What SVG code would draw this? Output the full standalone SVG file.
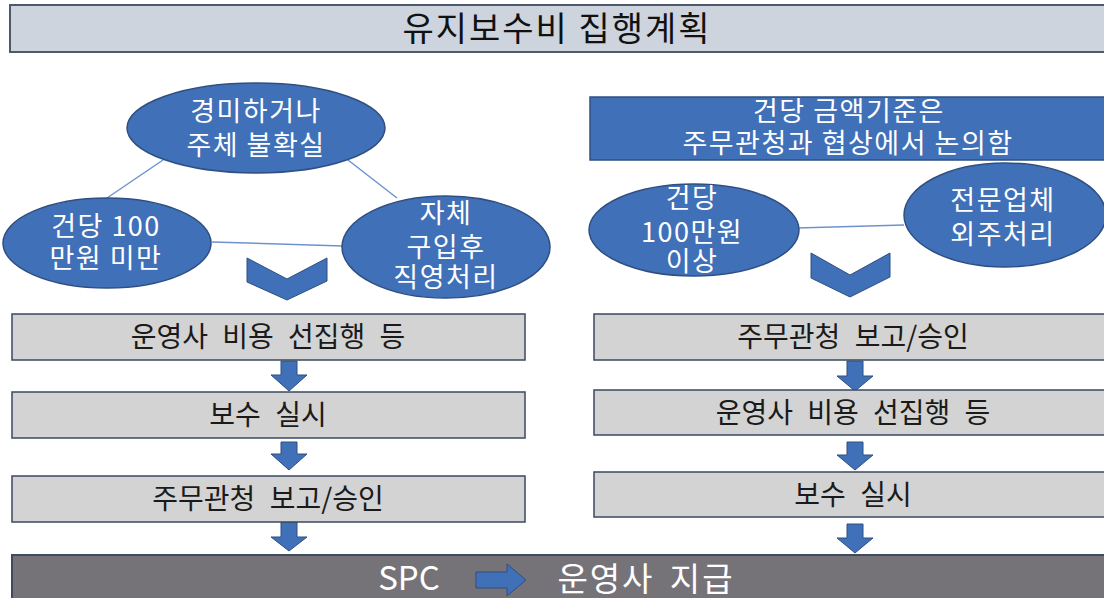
<svg xmlns="http://www.w3.org/2000/svg" width="1104" height="598" viewBox="0 0 1104 598">
<style>
text{font-family:"Noto Sans CJK KR","Noto Sans",sans-serif;text-anchor:middle}
.blue{fill:#4070b8;stroke:#2f4f80;stroke-width:1.5}
.gray{fill:#d3d3d3;stroke:#3a4a60;stroke-width:1.5}
.wt{fill:#ffffff;font-size:27px;letter-spacing:1.5px}
.bt{fill:#1a1a1a;font-size:28px;word-spacing:8px}
.con{stroke:#6e93cc;stroke-width:1.5;fill:none}
.arr{fill:#4070b8;stroke:#2f4f80;stroke-width:1}
</style>
<g id="title">
<rect x="10" y="5" width="1100" height="47" fill="#cdd4dd" stroke="#4d5a6c" stroke-width="2"/>
<text x="557" y="41" font-size="34" fill="#111" letter-spacing="2">유지보수비 집행계획</text>
</g>
<g id="connectors">
<line class="con" x1="163" y1="160" x2="107" y2="198"/>
<line class="con" x1="348" y1="160" x2="397" y2="198"/>
<line class="con" x1="212" y1="242" x2="343" y2="246"/>
<line class="con" x1="797" y1="228" x2="904" y2="225"/>
<polygon class="arr" points="281,361 297,361 297,375 307,375 289,391 271,375 281,375"/>
<polygon class="arr" points="281,442 297,442 297,454 307,454 289,470 271,454 281,454"/>
<polygon class="arr" points="281,522 297,522 297,537 307,537 289,551 271,537 281,537"/>
<polygon class="arr" points="847,361 863,361 863,376 873,376 855,391 837,376 847,376"/>
<polygon class="arr" points="847,442 863,442 863,455 873,455 855,470 837,455 847,455"/>
<polygon class="arr" points="847,524 863,524 863,538 873,538 855,553 837,538 847,538"/>
</g>
<g id="node-top-ellipse">
<ellipse class="blue" cx="256" cy="128" rx="129" ry="45"/>
<text class="wt" x="256" y="121">경미하거나</text>
<text class="wt" x="256" y="155">주체 불확실</text>
</g>
<g id="node-under100">
<ellipse class="blue" cx="107" cy="243" rx="104" ry="45"/>
<text class="wt" x="106" y="236">건당 100</text>
<text class="wt" x="106" y="268">만원 미만</text>
</g>
<g id="node-self">
<ellipse class="blue" cx="446" cy="247" rx="104" ry="51"/>
<text class="wt" x="446" y="223">자체</text>
<text class="wt" x="446" y="257">구입후</text>
<text class="wt" x="446" y="287">직영처리</text>
</g>
<g id="chevron-left">
<polygon class="arr" points="247,258 287,279 327,258 327,281 287,300 247,282"/>
</g>
<g id="node-criteria">
<rect class="blue" x="590" y="97" width="520" height="63"/>
<text class="wt" x="849" y="121">건당 금액기준은</text>
<text class="wt" x="848" y="153">주무관청과 협상에서 논의함</text>
</g>
<g id="node-over100">
<ellipse class="blue" cx="694" cy="230" rx="105" ry="46"/>
<text class="wt" x="692" y="208">건당</text>
<text class="wt" x="692" y="242">100만원</text>
<text class="wt" x="692" y="271">이상</text>
</g>
<g id="node-outsource">
<ellipse class="blue" cx="1005" cy="215" rx="101" ry="52"/>
<text class="wt" x="1003" y="210">전문업체</text>
<text class="wt" x="1003" y="244">외주처리</text>
</g>
<g id="chevron-right">
<polygon class="arr" points="811,253 850,275 890,253 890,277 850,297 811,278"/>
</g>
<g id="left-step1">
<rect class="gray" x="12" y="314" width="513" height="46"/>
<text class="bt" x="268" y="347">운영사 비용 선집행 등</text>
</g>
<g id="left-step2">
<rect class="gray" x="12" y="392" width="513" height="46"/>
<text class="bt" x="268" y="425">보수 실시</text>
</g>
<g id="left-step3">
<rect class="gray" x="12" y="476" width="513" height="46"/>
<text class="bt" x="268" y="509">주무관청 보고/승인</text>
</g>
<g id="right-step1">
<rect class="gray" x="594" y="314" width="520" height="46"/>
<text class="bt" x="853" y="347">주무관청 보고/승인</text>
</g>
<g id="right-step2">
<rect class="gray" x="594" y="390" width="520" height="45"/>
<text class="bt" x="853" y="423">운영사 비용 선집행 등</text>
</g>
<g id="right-step3">
<rect class="gray" x="594" y="472" width="520" height="45"/>
<text class="bt" x="853" y="505">보수 실시</text>
</g>
<g id="node-payment">
<rect x="12" y="555" width="1100" height="50" fill="#757378" stroke="#3f4a5c" stroke-width="2"/>
<text x="409" y="590" font-size="33" fill="#ffffff">SPC</text>
<polygon class="arr" points="476,572 507,572 507,564 526,580 507,596 507,588 476,588"/>
<text x="646" y="591" font-size="33" fill="#ffffff" letter-spacing="2" style="word-spacing:6px">운영사 지급</text>
</g>
</svg>
